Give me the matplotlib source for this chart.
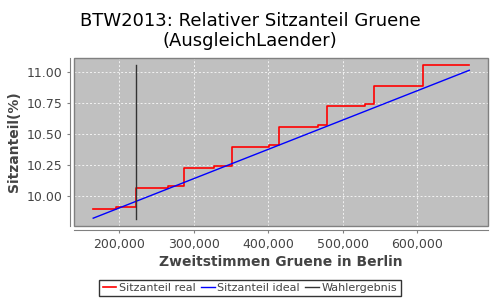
import matplotlib
matplotlib.use("Agg")
import matplotlib.pyplot as plt
from matplotlib.patches import Rectangle
from matplotlib.ticker import FuncFormatter

# Data
real_x = [165000, 195200, 222900, 265800, 287200, 327100, 350800, 401300,
          414800, 466700, 479200, 530200, 542300, 607200, 669800]
real_y = [9.895, 9.911, 10.065, 10.081, 10.226, 10.242, 10.395, 10.413,
          10.559, 10.572, 10.726, 10.742, 10.889, 11.055, 11.055]
ideal_x = [165000, 669800]
ideal_y = [9.823, 11.016]
wahl_x = [222000, 222000]
wahl_y = [9.82, 11.059]
yticks = [10.00, 10.25, 10.50, 10.75, 11.00]
xticks = [200000, 300000, 400000, 500000, 600000]

fig = plt.figure(figsize=(5, 3), dpi=100)
ax = fig.add_axes([0.148, 0.2467, 0.828, 0.56])
ax.set_facecolor("#c0c0c0")

ax.step(real_x, real_y, where="post", color="red", lw=1.2, label="Sitzanteil real")
ax.plot(ideal_x, ideal_y, color="blue", lw=1.0, label="Sitzanteil ideal")
ax.plot(wahl_x, wahl_y, color="#333333", lw=1.0, label="Wahlergebnis")

ax.set_xlim(139200, 694900)
ax.set_ylim(9.760, 11.115)
ax.set_xticks(xticks)
ax.set_yticks(yticks)
ax.xaxis.set_major_formatter(FuncFormatter(lambda v, p: f"{int(v):,}"))
ax.yaxis.set_major_formatter(FuncFormatter(lambda v, p: f"{v:.2f}"))
ax.grid(True, color="white", linestyle=(0, (2, 2)), lw=0.7, alpha=0.8)
ax.set_axisbelow(True)

for s in ["top", "right"]:
    ax.spines[s].set_visible(False)
for s in ["left", "bottom"]:
    ax.spines[s].set_position(("outward", 3))
    ax.spines[s].set_color("#808080")
ax.add_patch(Rectangle((0, 0), 1, 1, transform=ax.transAxes, fill=False,
                       edgecolor="#808080", lw=1.0, clip_on=False, zorder=5))
ax.tick_params(colors="#808080", length=2, labelsize=9, labelcolor="#444444")

ax.set_xlabel("Zweitstimmen Gruene in Berlin", fontsize=10, fontweight="bold", color="#444444", labelpad=3)
ax.set_ylabel("Sitzanteil(%)", fontsize=10, fontweight="bold", color="#444444", labelpad=4)
fig.suptitle("BTW2013: Relativer Sitzanteil Gruene\n(AusgleichLaender)", fontsize=13, y=0.96, linespacing=1.15)

leg = fig.legend(loc="center", bbox_to_anchor=(0.5, 0.04), ncol=3, fontsize=8,
                 frameon=True, fancybox=False, handlelength=1.2, handletextpad=0.25,
                 columnspacing=0.5, borderpad=0.3, borderaxespad=0.2)
leg.get_frame().set_edgecolor("black")
leg.get_frame().set_linewidth(1.0)
for t in leg.get_texts():
    t.set_color("#444444")

fig.savefig("out.png", dpi=100)
